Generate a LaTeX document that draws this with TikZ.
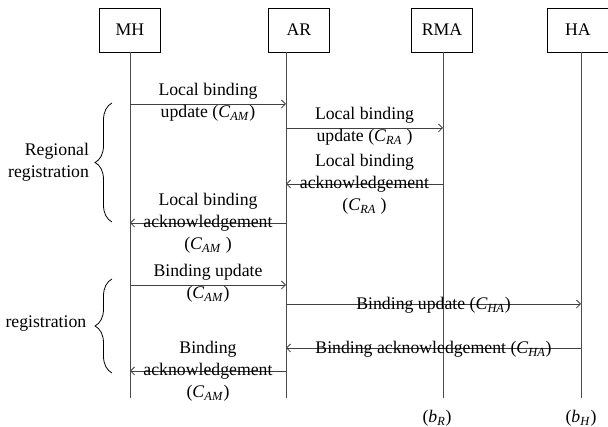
\documentclass[tikz,border=0pt]{standalone}
\usepackage{fontspec}
\setmainfont{Liberation Serif}
\usetikzlibrary{arrows.meta}
\usetikzlibrary{positioning}
\usetikzlibrary{decorations.pathreplacing}
\newcommand{\isub}[2]{\textit{#1}\textsubscript{\textit{#2}}}

\begin{document}
\begin{tikzpicture}[x = 0.75pt, y = -0.75pt, font = \fontsize{13.3}{16.5}\selectfont,
		entity/.style = {draw, line width = 0.6pt, minimum width = 46pt, minimum height = 33pt, inner sep = 0pt},
		life/.style = {draw = black!70, line width = 0.6pt},
		msg/.style = {draw = black!75, line width = 0.6pt, -{Straight Barb[length = 3pt, width = 6pt]}},
		lbl/.style = {align = center, inner sep = 0pt},
		grp/.style = {decorate, decoration = {brace, amplitude = 12.75pt}, line width = 0.6pt}]
		\useasboundingbox (0,0) rectangle (608,427);
		% entities and their lifelines
		\node[entity] (mh) at (130,30){MH};
		\node[entity] (ar) at (299,30){AR};
		\node[entity] (rma) at (442,30){RMA};
		\node[entity] (ha) at (578,30){HA};
		\coordinate (mhE) at (130,398);
		\coordinate (arT) at (286,52);
		\coordinate (arE) at (286,398);
		\coordinate (rmaE) at (443,398);
		\coordinate (haT) at (581,52);
		\coordinate (haE) at (581,398);
		\draw[life] (mh.south) -- (mhE);
		\draw[life] (arT) -- (arE);
		\draw[life] (rma.south -| rmaE) -- (rmaE);
		\draw[life] (haT) -- (haE);
		% message heights
		\coordinate (m1) at (0,104);
		\coordinate (m2) at (0,128);
		\coordinate (m3) at (0,184);
		\coordinate (m4) at (0,223);
		\coordinate (m5) at (0,285);
		\coordinate (m6) at (0,304);
		\coordinate (m7) at (0,348);
		\coordinate (m8) at (0,371);
		% regional registration
		\draw[msg] (mhE |- m1) -- (arE |- m1) node[lbl, midway, yshift = 1.4pt] (l1){Local binding\\update (\isub{C}{AM})};
		\draw[msg] (arE |- m2) -- (rmaE |- m2) node[lbl, midway, yshift = 1.4pt] (l2){Local binding\\update (\isub{C}{RA} )};
		\draw[msg] (rmaE |- m3) -- (arE |- m3) node[lbl, midway] (l3){Local binding\\acknowledgement\\(\isub{C}{RA} )};
		\draw[msg] (arE |- m4) -- (mhE |- m4) node[lbl, midway] (l4){Local binding\\acknowledgement\\(\isub{C}{AM} )};
		% home registration
		\draw[msg] (mhE |- m5) -- (arE |- m5) node[lbl, midway, yshift = 1.4pt] (l5){Binding update\\(\isub{C}{AM})};
		\draw[msg] (arE |- m6) -- (haE |- m6) node[lbl, midway, yshift = -0.7pt] (l6){Binding update (\isub{C}{HA})};
		\draw[msg] (haE |- m7) -- (arE |- m7) node[lbl, midway, yshift = -0.7pt] (l7){Binding acknowledgement (\isub{C}{HA})};
		\draw[msg] (arE |- m8) -- (mhE |- m8) node[lbl, midway] (l8){Binding\\acknowledgement\\(\isub{C}{AM})};
		% braces
		\coordinate (g1a) at (112,222);
		\coordinate (g1b) at (112,103);
		\coordinate (g2a) at (112,373);
		\coordinate (g2b) at (112,279);
		\draw[grp] (g1a) -- (g1b) node[lbl, midway, left = 17pt, align = right] (reg1){Regional\\registration};
		\draw[grp] (g2a) -- (g2b) node[lbl, midway, left = 19pt, yshift = 2pt] (reg2){registration};
		% buffers
		\node[lbl, below = 9pt of rmaE, xshift = -4.5pt] (bR){(\isub{b}{R})};
		\node[lbl, below = 9pt of haE] (bH){(\isub{b}{H})};
		\end{tikzpicture}
\end{document}
